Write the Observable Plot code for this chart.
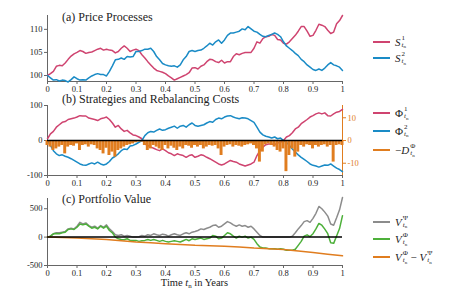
<!DOCTYPE html>
<html><head><meta charset="utf-8">
<script src="https://cdn.jsdelivr.net/npm/d3@7"></script>
<script src="https://cdn.jsdelivr.net/npm/@observablehq/plot@0.6"></script>
<style>
body{margin:0;background:#fff;}
#wrap{position:relative;width:471px;height:290px;font-family:"Liberation Serif","DejaVu Serif",serif;overflow:hidden;color:#222;}
.panel{position:absolute;left:0;}
.title{position:absolute;left:62px;font-size:12px;white-space:nowrap;line-height:12px;}
.leg{position:absolute;left:373px;height:14px;display:flex;align-items:center;white-space:nowrap;}
.sw{display:inline-block;width:17px;height:2px;margin-right:5px;}
.m{font-size:11px;display:inline-flex;align-items:center;}
.ss{display:inline-flex;flex-direction:column;font-size:7px;line-height:7px;margin-left:1px;}
.nn{font-size:5px;position:relative;top:1.5px;}
#xlab{position:absolute;left:47px;width:295px;text-align:center;top:277px;font-size:10.5px;line-height:12px;}
</style></head>
<body><div id="wrap"></div>
<script>
// ---------- data ----------
const t = d3.range(0, 101).map(i => i / 100);
const xTicks = [0, 0.1, 0.2, 0.3, 0.4, 0.5, 0.6, 0.7, 0.8, 0.9, 1];

const S1 = [100,100.4,100.9,102,102.2,102.1,102.7,103.5,104.2,104.7,
105,105.4,105.2,104.8,105,105.1,105.4,105.7,105.9,105.5,
105.7,105.5,105.4,104.9,105.2,105.9,106.4,105.9,105.2,105.5,
105.7,105.4,104.5,103.8,103,102.3,101.6,101.1,100.9,100.7,
100.4,99.9,99.5,99.0,99.3,99.6,99.9,100.2,100.6,101.6,
101.7,101.4,102,102.3,103,103.5,103.4,103,102.8,103.3,
102.7,103,103,104.1,104.7,104.5,104.8,105,105,105,
105.9,107.3,107,108,108.4,108.5,108.9,108.7,107.8,107.7,
107,106.8,107.3,108,108.7,109.6,110.6,110.6,109.6,108.5,
108.7,109.8,111.1,110.9,110.6,109.8,109.1,109.4,111.2,111.9,113];

const S2 = [100,99.5,99,99.1,98.8,99,98.9,98.6,99.1,99.7,
99.3,99,99.1,99,99.5,99.9,100.2,100.4,100.2,100.2,
99.9,100.9,102.1,103.4,103.5,103.8,103.5,104.1,104,104.1,
105.2,105.2,105.4,105.7,105.7,105.9,105.2,104.1,103.4,102.6,
102.3,102.1,102,102.1,101.8,102.3,103.4,104.1,105.2,105.4,
105.2,105.4,105.5,105.9,106.4,107,106.6,107.3,107.7,107,
107.7,108.7,109.2,109.2,109.4,109.6,110.1,109.9,110.6,110.1,
109.6,109.4,108.9,108.5,108.4,108.7,108.9,109.2,108.9,108.4,
107.3,106.4,105.9,105.4,104.8,104.3,103.5,103,102.3,101.8,
101.3,101.1,101.4,101.1,101.6,102.3,102.8,102.3,102.1,101.8,101.1];

const Phi1 = [5,19,26,38,45,52,54,60,62,64,
67,71,70,70,64,62,60,57,62,64,
67,60,50,38,43,33,26,29,22,16,
14,10,5,-10,-14,-19,-22,-26,-29,-24,
-29,-35,-38,-43,-38,-41,-43,-48,-43,-41,
-48,-45,-41,-43,-48,-52,-57,-62,-67,-70,
-67,-62,-57,-60,-62,-67,-70,-73,-70,-67,
-62,-43,-29,-19,-12,-10,-10,-12,-7,-5,
0,10,14,22,33,38,48,54,60,67,
71,76,79,76,79,71,70,76,81,83,89];

const Phi2 = [0,-14,-29,-38,-43,-41,-45,-48,-52,-57,
-62,-67,-70,-71,-67,-64,-67,-62,-67,-70,
-67,-60,-50,-45,-38,-29,-24,-26,-16,-14,
-10,-5,0,14,22,26,24,29,33,29,
31,35,38,41,35,41,43,38,45,50,
43,41,43,45,50,54,52,60,64,62,
67,70,71,67,64,62,65,64,62,57,
52,38,24,16,12,10,7,10,5,7,
0,-5,-14,-24,-33,-41,-48,-54,-60,-67,
-71,-73,-76,-73,-70,-71,-67,-73,-79,-83,-89];

// rebalancing costs D (shown as -D, right axis)
const cost = [2.2,2.9,4.4,3.7,2.9,2.2,5.9,2.9,2.2,2.5,
1.5,4.4,2.2,1.9,2.9,1.9,2.2,3.7,4.4,5.9,
3.4,6.6,5.1,7.3,4.4,3.7,2.9,2.2,1.9,1.5,
1.0,0.7,0.7,2.2,4.4,3.7,2.2,2.9,3.7,4.4,
2.2,3.7,2.5,3.4,4.4,2.9,3.7,2.2,2.5,3.4,
2.2,2.9,2.2,3.7,2.9,2.2,2.5,2.2,3.7,6.6,
2.9,2.2,1.9,2.9,2.2,2.5,2.9,2.2,1.9,1.5,
2.2,3.7,9.5,5.1,1.9,1.5,2.2,2.9,4.4,5.1,
3.7,13.7,6.6,3.7,7.3,5.1,2.2,2.9,1.9,2.2,
3.7,2.2,2.9,2.2,1.9,2.9,2.2,9.5,2.2,1.9,2.2];

const VPsi = [0,17,58,76,76,87,99,145,157,145,
192,261,232,250,203,174,192,157,203,174,
215,145,99,41,29,41,17,29,17,0,
0,6,29,17,41,29,58,41,29,52,
41,17,41,58,41,29,58,76,58,87,
99,116,145,134,157,174,203,215,174,192,
232,273,250,215,192,215,192,203,174,192,
145,87,29,0,0,0,0,0,0,0,
0,0,0,17,76,145,203,273,290,260,
330,420,540,500,440,370,230,210,340,480,697];

const VPhi = [0,17,58,64,58,76,87,134,145,134,
174,232,215,232,192,157,174,145,192,157,
192,116,76,0,-29,-41,-46,-29,-58,-58,
-58,-75,-64,-58,-41,-58,-41,-58,-75,-58,
-75,-87,-75,-64,-75,-87,-64,-41,-64,-29,
-41,-29,-17,-41,-29,-17,29,17,-29,-17,
29,76,58,17,-17,17,0,17,-17,0,
-41,-116,-174,-192,-192,-203,-203,-203,-215,-203,
-215,-232,-232,-232,-215,-145,-75,17,40,10,
60,145,240,210,140,60,-100,-110,20,150,377];

const tDiff = [0,0.05,0.1,0.15,0.2,0.25,0.3,0.35,0.4,0.45,0.5,0.55,0.6,0.65,0.7,0.75,0.8,0.85,0.9,0.95,1];
const VDiff = [0,-8,-17,-28,-41,-62,-85,-100,-116,-130,-145,-152,-160,-175,-192,-203,-218,-245,-270,-300,-330];

// ---------- styling ----------
const PINK = "#CF4470", BLUE = "#1A8BC6", ORANGE = "#E07D1F", GREEN = "#4DB03A", GRAY = "#8C8C8C";
const AX = "#666";
const W = 370, ML = 47, MR = 28;
const fmt = d => String(d);
const style = {fontFamily: '"Liberation Serif","DejaVu Serif",serif', fontSize: "8.5px", color: "#222", background: "transparent", overflow: "visible"};

const dA = t.map((x, i) => ({t: x, s1: S1[i], s2: S2[i]}));
const dB = t.map((x, i) => ({t: x, p1: Phi1[i], p2: Phi2[i], c: cost[i]}));
const dC = t.map((x, i) => ({t: x, vpsi: VPsi[i], vphi: VPhi[i]}));
const dD = tDiff.map((x, i) => ({t: x, v: VDiff[i]}));

function xAxis() {
  return Plot.axisX(xTicks, {tickSize: 3, tickPadding: 1, tickFormat: fmt, stroke: AX, fill: "#222", label: null});
}
function spines(ymin) {
  return [Plot.ruleX([0], {stroke: AX}), Plot.ruleY([ymin], {stroke: AX})];
}

// Panel (a)
const pa = Plot.plot({
  width: W, height: 95, marginLeft: ML, marginRight: MR, marginTop: 15, marginBottom: 14,
  style,
  x: {domain: [0, 1], axis: null},
  y: {domain: [98.7, 113], axis: null},
  marks: [
    ...spines(98.7),
    xAxis(),
    Plot.axisY([100, 105, 110], {tickSize: 3, tickPadding: 2, tickFormat: fmt, stroke: AX, fill: "#222", label: null}),
    Plot.line(dA, {x: "t", y: "s1", stroke: PINK, strokeWidth: 1.5}),
    Plot.line(dA, {x: "t", y: "s2", stroke: BLUE, strokeWidth: 1.5})
  ]
});

// Panel (b)
const K = 100 / 15.4; // right-axis (costs) units to left-axis units
const pb = Plot.plot({
  width: W, height: 94, marginLeft: ML, marginRight: MR, marginTop: 10, marginBottom: 14,
  style,
  x: {domain: [0, 1], axis: null},
  y: {domain: [-100, 100], axis: null},
  marks: [
    ...spines(-100),
    Plot.ruleX([1], {stroke: ORANGE}),
    xAxis(),
    Plot.axisY([-100, 0, 100], {tickSize: 3, tickPadding: 2, tickFormat: fmt, stroke: AX, fill: "#222", label: null}),
    Plot.axisY([-10, 0, 10].map(v => v * K), {anchor: "right", tickSize: 3, tickPadding: 2, tickFormat: d => String(Math.round(d / K)), stroke: ORANGE, fill: ORANGE, label: null}),
    Plot.line(dB, {x: "t", y: "p1", stroke: PINK, strokeWidth: 1.5}),
    Plot.line(dB, {x: "t", y: "p2", stroke: BLUE, strokeWidth: 1.5}),
    Plot.rect(dB, {x1: d => d.t - 0.005, x2: d => d.t + 0.005, y1: () => 0, y2: d => -d.c * K, fill: ORANGE, inset: 0}),
    Plot.ruleY([0], {stroke: "black", strokeWidth: 1.5})
  ]
});

// Panel (c)
const pc = Plot.plot({
  width: W, height: 101, marginLeft: ML, marginRight: MR, marginTop: 9, marginBottom: 25,
  style,
  x: {domain: [0, 1], axis: null},
  y: {domain: [-500, 680], axis: null},
  marks: [
    ...spines(-500),
    xAxis(),
    Plot.axisY([-500, 0, 500], {tickSize: 3, tickPadding: 2, tickFormat: fmt, stroke: AX, fill: "#222", label: null}),
    Plot.line(dC, {x: "t", y: "vpsi", stroke: GRAY, strokeWidth: 1.5}),
    Plot.line(dC, {x: "t", y: "vphi", stroke: GREEN, strokeWidth: 1.5}),
    Plot.line(dD, {x: "t", y: "v", stroke: ORANGE, strokeWidth: 1.5}),
    Plot.ruleY([0], {stroke: "black", strokeWidth: 1.5})
  ]
});

const wrap = document.getElementById("wrap");
[[pa, 0], [pb, 95], [pc, 189]].forEach(([svg, top]) => {
  svg.classList.add("panel");
  svg.style.position = "absolute";
  svg.style.top = top + "px";
  svg.style.left = "0px";
  wrap.appendChild(svg);
});

function addDiv(cls, html, top, id) {
  const d = document.createElement("div");
  if (cls) d.className = cls;
  if (id) d.id = id;
  d.innerHTML = html;
  d.style.top = top + "px";
  wrap.appendChild(d);
}
addDiv("title", "(a) Price Processes", 11);
addDiv("title", "(b) Strategies and Rebalancing Costs", 93);
addDiv("title", "(c) Portfolio Value", 193);

const tn = '<span><i>t</i><span class="nn">n</span></span>';
const sym = (base, sup) => `<span class="m">${base}<span class="ss"><span>${sup}</span>${tn}</span></span>`;
const legends = [
  [PINK, sym("<i>S</i>", "1"), 41.7],
  [BLUE, sym("<i>S</i>", "2"), 58.3],
  [PINK, sym("Φ", "1"), 113.3],
  [BLUE, sym("Φ", "2"), 130.7],
  [ORANGE, '<span class="m">−</span>' + sym("<i>D</i>", "Φ"), 150],
  [GRAY, sym("<i>V</i>", "Ψ"), 221.7],
  [GREEN, sym("<i>V</i>", "Φ"), 239.3],
  [ORANGE, sym("<i>V</i>", "Φ") + '<span class="m">&nbsp;−&nbsp;</span>' + sym("<i>V</i>", "Ψ"), 257.3]
];
legends.forEach(([c, html, y]) => {
  addDiv("leg", `<span class="sw" style="background:${c}"></span>${html}`, y - 7);
});
addDiv("", 'Time <i>t</i><span style="font-size:7px;position:relative;top:2px">n</span> in Years', 277, "xlab");
</script>
</body></html>
